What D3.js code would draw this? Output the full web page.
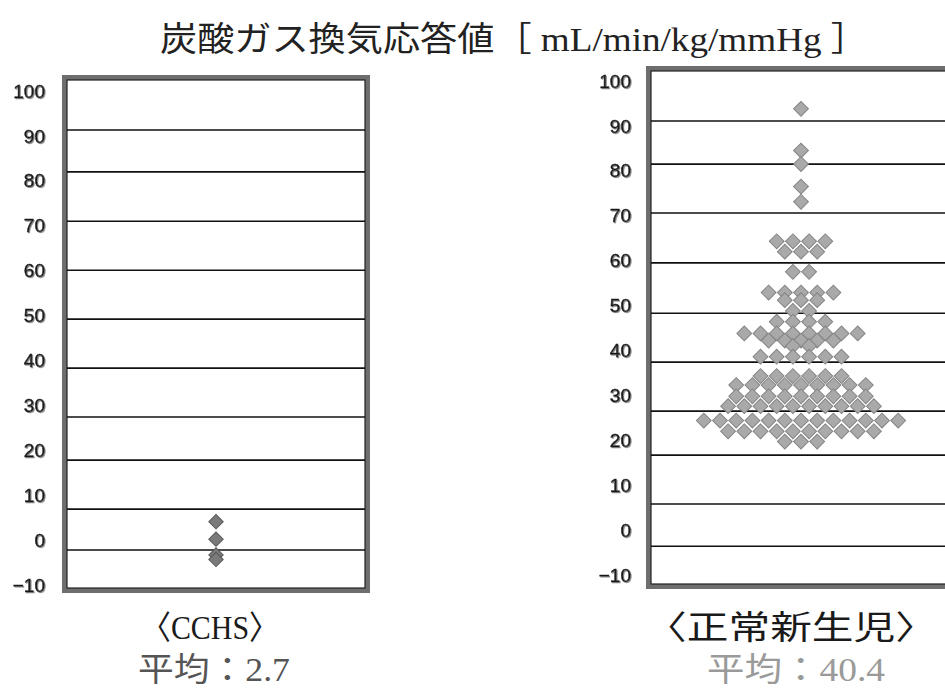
<!DOCTYPE html>
<html>
<head>
<meta charset="utf-8">
<script src="https://cdn.jsdelivr.net/npm/d3@7"></script>
<style>
	body { margin: 0; background: #fff; }
</style>
</head>
<body>
<svg id="chart" width="945" height="694"></svg>
<script>
	// data
	var title = "炭酸ガス換気応答値［ mL/min/kg/mmHg ］"
	var tickValues = [100, 90, 80, 70, 60, 50, 40, 30, 20, 10, 0, -10]
	var groupNames = ["〈CCHS〉", "〈正常新生児〉"]
	var meanLabels = ["平均：2.7", "平均：40.4"]

	// gridlines in the picture do not sit on the tick labels, so keep them apart
	var cchsGrid = [91.3, 82.0, 71.0, 60.1, 49.2, 38.3, 27.4, 17.8, 6.9, -2.2]
	var normalGrid = [91.1, 81.5, 70.6, 59.5, 48.3, 37.4, 26.5, 16.7, 5.8, -3.6]

	var cchsValues = [4.1, 0.2, -3.3, -4.3]
	var normalValues = [
		93.8, 84.5, 81.5, 76.5, 73.1,
		64.3, 64.3, 64.3, 64.3,
		62.0, 62.0, 62.0,
		57.5, 57.5,
		52.9, 52.9, 52.9, 52.9, 52.9,
		51.2, 51.2, 51.2,
		48.8, 48.8,
		46.4, 46.4, 46.4, 46.4,
		43.8, 43.8, 43.8, 43.8, 43.8, 43.8, 43.8, 43.8,
		42.2, 42.2, 42.2, 42.2, 42.2,
		41.0, 41.0,
		38.6, 38.6, 38.6, 38.6, 38.6, 38.6,
		34.3, 34.3, 34.3, 34.3, 34.3, 34.3,
		32.3, 32.3, 32.3, 32.3, 32.3, 32.3, 32.3, 32.3, 32.3,
		29.8, 29.8, 29.8, 29.8, 29.8, 29.8, 29.8, 29.8, 29.8,
		27.6, 27.6, 27.6, 27.6, 27.6, 27.6, 27.6, 27.6, 27.6, 27.6,
		24.4, 24.4, 24.4, 24.4, 24.4, 24.4, 24.4, 24.4, 24.4, 24.4, 24.4, 24.4, 24.4,
		22.0, 22.0, 22.0, 22.0, 22.0, 22.0, 22.0, 22.0, 22.0, 22.0,
		19.7, 19.7, 19.7
	]

	var svg = d3.select("#chart")
	var cjk = "'Liberation Serif', 'Noto Sans CJK JP', serif"

	var defs = svg.append("defs")
	var shadow = defs.append("filter").attr("id", "shadow")
		.attr("x", "-20%").attr("y", "-20%").attr("width", "140%").attr("height", "140%")
	shadow.append("feDropShadow")
		.attr("dx", 1).attr("dy", 1).attr("stdDeviation", 0.7)
		.attr("flood-color", "#8a8a8a")

	// title
	svg.append("text")
		.attr("x", 514)
		.attr("y", 39)
		.attr("text-anchor", "middle")
		.attr("dominant-baseline", "central")
		.attr("textLength", 708)
		.attr("lengthAdjust", "spacingAndGlyphs")
		.style("font-family", cjk)
		.style("font-size", "34px")
		.attr("fill", "#222")
		.text(title)

	var panels = [
		{ values: cchsValues, grid: cchsGrid, left: 62, right: 370, top: 75, bottom: 593,
			yTop: 91, yBottom: 585, labelX: 45, fill: "#7a7a7a", stroke: "#585858", size: 104,
			name: groupNames[0], nameX: 210, nameW: 138, mean: meanLabels[0], meanX: 214, meanW: 152, meanFill: "#555" },
		{ values: normalValues, grid: normalGrid, left: 646, right: 956, top: 66, bottom: 589,
			yTop: 81, yBottom: 575, labelX: 631, fill: "#a9a9a9", stroke: "#858585", size: 110,
			name: groupNames[1], nameX: 791, nameW: 292, mean: meanLabels[1], meanX: 796, meanW: 178, meanFill: "#9a9a9a" }
	]

	panels.forEach(p => {
		let g = svg.append("g")

		let yScale = d3.scaleLinear()
			.domain([100, -10])
			.range([p.yTop, p.yBottom])

		let cx = (p.left + p.right) / 2
		// one slot = one diamond width in the swarm
		let xScale = d3.scaleLinear()
			.domain([-1, 1])
			.range([cx - 16.2, cx + 16.2])

		// frame
		g.append("rect")
			.attr("x", p.left + 2.5).attr("y", p.top + 2.5)
			.attr("width", p.right - p.left - 5).attr("height", p.bottom - p.top - 5)
			.attr("fill", "#fff")
			.attr("stroke", "#6e6e6e")
			.attr("stroke-width", 5)
		g.append("rect")
			.attr("x", p.left + 5).attr("y", p.top + 5)
			.attr("width", p.right - p.left - 10).attr("height", p.bottom - p.top - 10)
			.attr("fill", "none")
			.attr("stroke", "#222")
			.attr("stroke-width", 1.2)

		// gridlines
		g.selectAll(".grid")
			.data(p.grid)
			.enter()
			.append("line").attr("class", "grid")
			.attr("x1", p.left + 5)
			.attr("x2", p.right - 5)
			.attr("y1", d => yScale(d))
			.attr("y2", d => yScale(d))
			.attr("stroke", "#111")
			.attr("stroke-width", 1.6)

		// y axis labels only
		let yAxis = d3.axisLeft(yScale)
			.tickValues(tickValues)
			.tickSize(0)
			.tickPadding(0)
		let ax = g.append("g")
			.attr("transform", "translate(" + p.labelX + ", 0)")
			.call(yAxis)
		ax.select(".domain").remove()
		ax.selectAll("text")
			.attr("fill", "#1a1a1a")
			.attr("stroke", "#1a1a1a")
			.attr("stroke-width", 0.4)
			.attr("filter", "url(#shadow)")
			.style("font-family", "'Liberation Sans', Arial, sans-serif")
			.style("font-size", "19px")

		// beeswarm: equal values share a row, centred on the panel
		let rows = d3.group(p.values, d => d)
		let points = []
		rows.forEach((vals, v) => {
			vals.forEach((d, i) => points.push({ value: d, slot: i - (vals.length - 1) / 2 }))
		})

		g.selectAll(".pt")
			.data(points)
			.enter()
			.append("path").attr("class", "pt")
			.attr("d", d3.symbol(d3.symbolSquare, p.size))
			.attr("transform", d => "translate(" + xScale(d.slot) + "," + yScale(d.value) + ") rotate(45)")
			.attr("fill", p.fill)
			.attr("stroke", p.stroke)
			.attr("stroke-width", 1)

		// group name and mean
		svg.append("text")
			.attr("x", p.nameX)
			.attr("y", 628)
			.attr("text-anchor", "middle")
			.attr("dominant-baseline", "central")
			.attr("textLength", p.nameW)
			.attr("lengthAdjust", "spacingAndGlyphs")
			.style("font-family", cjk)
			.style("font-size", "33px")
			.attr("fill", "#1a1a1a")
			.text(p.name)

		svg.append("text")
			.attr("x", p.meanX)
			.attr("y", 670)
			.attr("text-anchor", "middle")
			.attr("dominant-baseline", "central")
			.attr("textLength", p.meanW)
			.attr("lengthAdjust", "spacingAndGlyphs")
			.style("font-family", cjk)
			.style("font-size", "33px")
			.attr("fill", p.meanFill)
			.text(p.mean)
	})
</script>
</body>
</html>
